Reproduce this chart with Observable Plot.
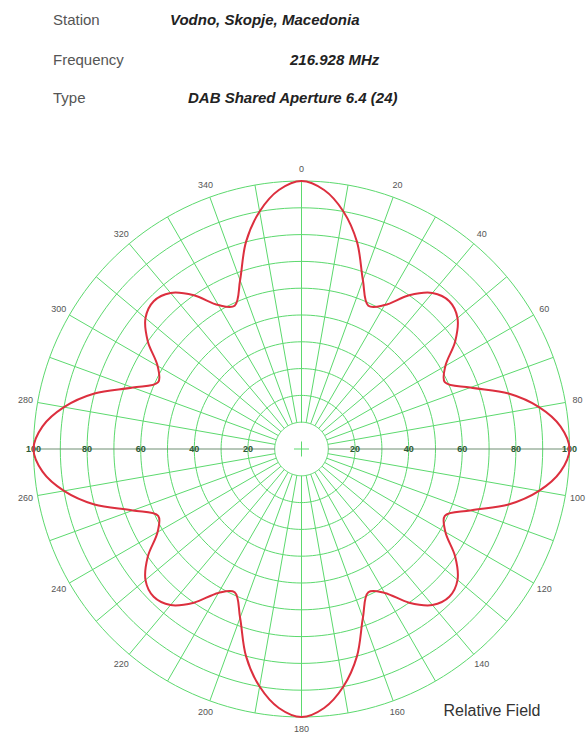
<!DOCTYPE html>
<html><head><meta charset="utf-8">
<script src="https://cdn.jsdelivr.net/npm/d3@7"></script>
<script src="https://cdn.jsdelivr.net/npm/@observablehq/plot@0.6"></script>
<style>
body{margin:0;background:#fff;font-family:"Liberation Sans",Arial,sans-serif;}
#header{position:relative;width:586px;height:140px;}
#header span{position:absolute;font-size:15px;line-height:1;white-space:nowrap;}
.lab{color:#555;}
.val{color:#222;font-weight:bold;font-style:italic;}
#chart svg{display:block;}
</style></head><body>
<div id="header"></div>
<div id="chart"></div>
<script>
// ---- data ----
const infoLabels = ["Station", "Frequency", "Type"];
const infoValues = ["Vodno, Skopje, Macedonia", "216.928 MHz", "DAB Shared Aperture 6.4 (24)"];
const patternAngles = d3.range(0, 360, 5);
const relativeField = [
  100, 97, 90, 80, 67, 59, 62, 70, 76, 78, 76, 70, 62, 59, 67, 80, 90, 97,
  100, 97, 90, 80, 67, 59, 62, 70, 76, 78, 76, 70, 62, 59, 67, 80, 90, 97,
  100, 97, 90, 80, 67, 59, 62, 70, 76, 78, 76, 70, 62, 59, 67, 80, 90, 97,
  100, 97, 90, 80, 67, 59, 62, 70, 76, 78, 76, 70, 62, 59, 67, 80, 90, 97
];
const ringValues = [10, 20, 30, 40, 50, 60, 70, 80, 90, 100];
const ringLabels = [20, 40, 60, 80, 100];
const spokeAngles = d3.range(0, 360, 10);
const angleLabels = d3.range(0, 360, 20);
const captionText = "Relative Field";

// ---- layout ----
const labelX = 53;
const valueX = [170, 290, 188];
const rowTop = [12, 52, 90];
const header = document.getElementById("header");
infoLabels.forEach((t, i) => {
  const a = document.createElement("span"); a.className = "lab"; a.textContent = t;
  a.style.left = labelX + "px"; a.style.top = rowTop[i] + "px"; header.appendChild(a);
  const b = document.createElement("span"); b.className = "val"; b.textContent = infoValues[i];
  b.style.left = valueX[i] + "px"; b.style.top = rowTop[i] + "px"; header.appendChild(b);
});

const rad = d => d * Math.PI / 180;
const px = (a, r) => r * Math.sin(rad(a));
const py = (a, r) => r * Math.cos(rad(a));

const curve = patternAngles.map((a, i) => ({x: px(a, relativeField[i]), y: py(a, relativeField[i])}));
const rings = ringValues.flatMap(r => d3.range(0, 361, 2).map(a => ({r, x: px(a, r), y: py(a, r)})));
const spokes = spokeAngles.map(a => ({a, x1: px(a, 10), y1: py(a, 10), x2: px(a, 100), y2: py(a, 100)}));
const ringText = ringLabels.flatMap(v => [{x: -v, y: 0, t: String(v)}, {x: v, y: 0, t: String(v)}]);
const angleText = angleLabels.map(a => ({x: px(a, 104.6), y: py(a, 104.6), t: String(a)}));
const cross = [{x1: -2.8, y1: 0, x2: 2.8, y2: 0}, {x1: 0, y1: -2.8, x2: 0, y2: 2.8}];

const green = "#5cd96e";
const chart = Plot.plot({
  width: 586, height: 594,
  marginLeft: 33, marginRight: 17, marginTop: 40.5, marginBottom: 17.5,
  x: {domain: [-100, 100], axis: null},
  y: {domain: [-100, 100], axis: null},
  style: {fontFamily: "Liberation Sans, Arial, sans-serif", background: "#fff"},
  marks: [
    Plot.line(rings, {x: "x", y: "y", z: "r", stroke: green, strokeWidth: 1}),
    Plot.link(spokes.filter(d => d.a !== 90 && d.a !== 270), {x1: "x1", y1: "y1", x2: "x2", y2: "y2", stroke: green, strokeWidth: 1}),
    Plot.link(spokes.filter(d => d.a === 90 || d.a === 270), {x1: "x1", y1: "y1", x2: "x2", y2: "y2", stroke: "#6f8f72", strokeWidth: 1}),
    Plot.link(cross, {x1: "x1", y1: "y1", x2: "x2", y2: "y2", stroke: green, strokeWidth: 1}),
    Plot.text(ringText, {x: "x", y: "y", text: "t", fill: "#2c5a33", fontSize: 9, fontWeight: "bold"}),
    Plot.text(angleText, {x: "x", y: "y", text: "t", fill: "#555", fontSize: 9}),
    Plot.line(curve, {x: "x", y: "y", curve: "catmull-rom-closed", stroke: "#dc2f3e", strokeWidth: 2}),
    Plot.text([captionText], {text: d => d, frameAnchor: "bottom-right", textAnchor: "end", lineAnchor: "bottom", dx: -29, dy: -1, fontSize: 16, fill: "#333"})
  ]
});
document.getElementById("chart").appendChild(chart);
</script>
</body></html>
